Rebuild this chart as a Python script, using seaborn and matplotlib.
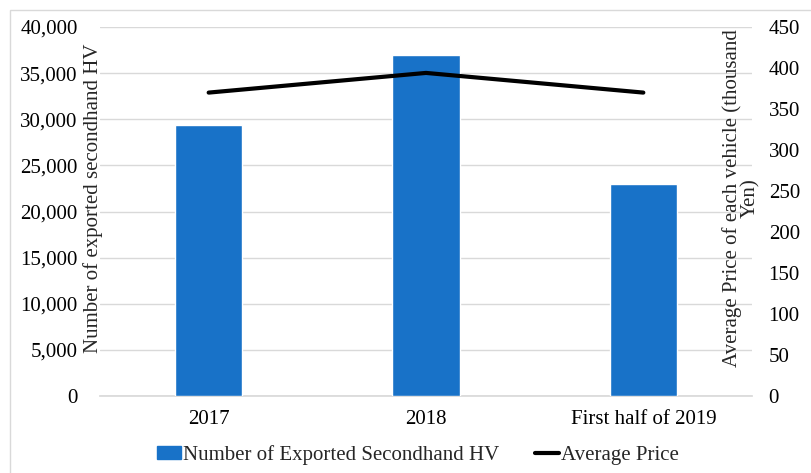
import matplotlib
matplotlib.use("Agg")
import matplotlib.pyplot as plt
import seaborn as sns
import pandas as pd
from matplotlib.patches import Rectangle
from matplotlib.lines import Line2D
from matplotlib.ticker import FuncFormatter, MultipleLocator

categories = ["2017", "2018", "First half of 2019"]
exported = [29400, 36950, 23000]
avg_price = [370, 394, 370]

sns.set_theme(style="white")
plt.rcParams['font.family'] = ['Liberation Serif', 'DejaVu Serif']

df = pd.DataFrame({"cat": categories, "n": exported, "p": avg_price})

FS = 15
fig = plt.figure(figsize=(8.11, 4.73), dpi=100)
ax = fig.add_axes([100/811, 1-396/473, 652/811, 369/473])
bar_color = "#1872C8"
sns.barplot(data=df, x="cat", y="n", color=bar_color, width=0.31, ax=ax, saturation=1, zorder=3)
ax.set_ylim(0, 40000)
ax.yaxis.set_major_locator(MultipleLocator(5000))
ax.yaxis.set_major_formatter(FuncFormatter(lambda v, _: f"{int(v):,}"))
ax.grid(axis="y", color="#d9d9d9", linewidth=1, zorder=0)
ax.set_axisbelow(True)
for s in ["top", "right", "left"]:
    ax.spines[s].set_visible(False)
ax.spines["bottom"].set_color("#d9d9d9")
ax.tick_params(axis="both", length=0, labelsize=FS, colors="black")
ax.tick_params(axis="y", pad=16)
ax.tick_params(axis="x", pad=10)
ax.set_xlabel("")
ax.set_ylabel("")

ax2 = ax.twinx()
sns.lineplot(data=df, x="cat", y="p", color="black", linewidth=3, ax=ax2, sort=False)
ax2.set_ylim(0, 450)
ax2.yaxis.set_major_locator(MultipleLocator(50))
for s in ["top", "right", "left", "bottom"]:
    ax2.spines[s].set_visible(False)
ax2.tick_params(axis="y", length=0, labelsize=FS, colors="black", pad=12)
ax2.set_ylabel("")
ax2.set_xlabel("")
ax.set_xlim(-0.5, 2.5)

fig.text(93/811, 1-198/473, "Number of exported secondhand HV", rotation=90,
         ha="center", va="center", fontsize=FS)
fig.text(741/811, 1-198/473, "Average Price of each vehicle (thousand\nYen)", rotation=90,
         ha="center", va="center", fontsize=FS, multialignment="center", linespacing=0.95)

handles = [Rectangle((0, 0), 1, 1, color=bar_color),
           Line2D([0], [0], color="black", linewidth=3)]
fig.legend(handles, ["Number of Exported Secondhand HV", "Average Price"],
           loc="center", bbox_to_anchor=(418/811, 1-455/473), ncol=2, frameon=False,
           fontsize=FS, handlelength=1.15, handleheight=0.55, handletextpad=0.1,
           columnspacing=1.7, borderaxespad=0, borderpad=0)

fig.patches.append(Rectangle((10/811, -5/473), 810/811, 468/473, transform=fig.transFigure,
                             fill=False, edgecolor="#d9d9d9", linewidth=1))

fig.savefig("out.png", dpi=100)
